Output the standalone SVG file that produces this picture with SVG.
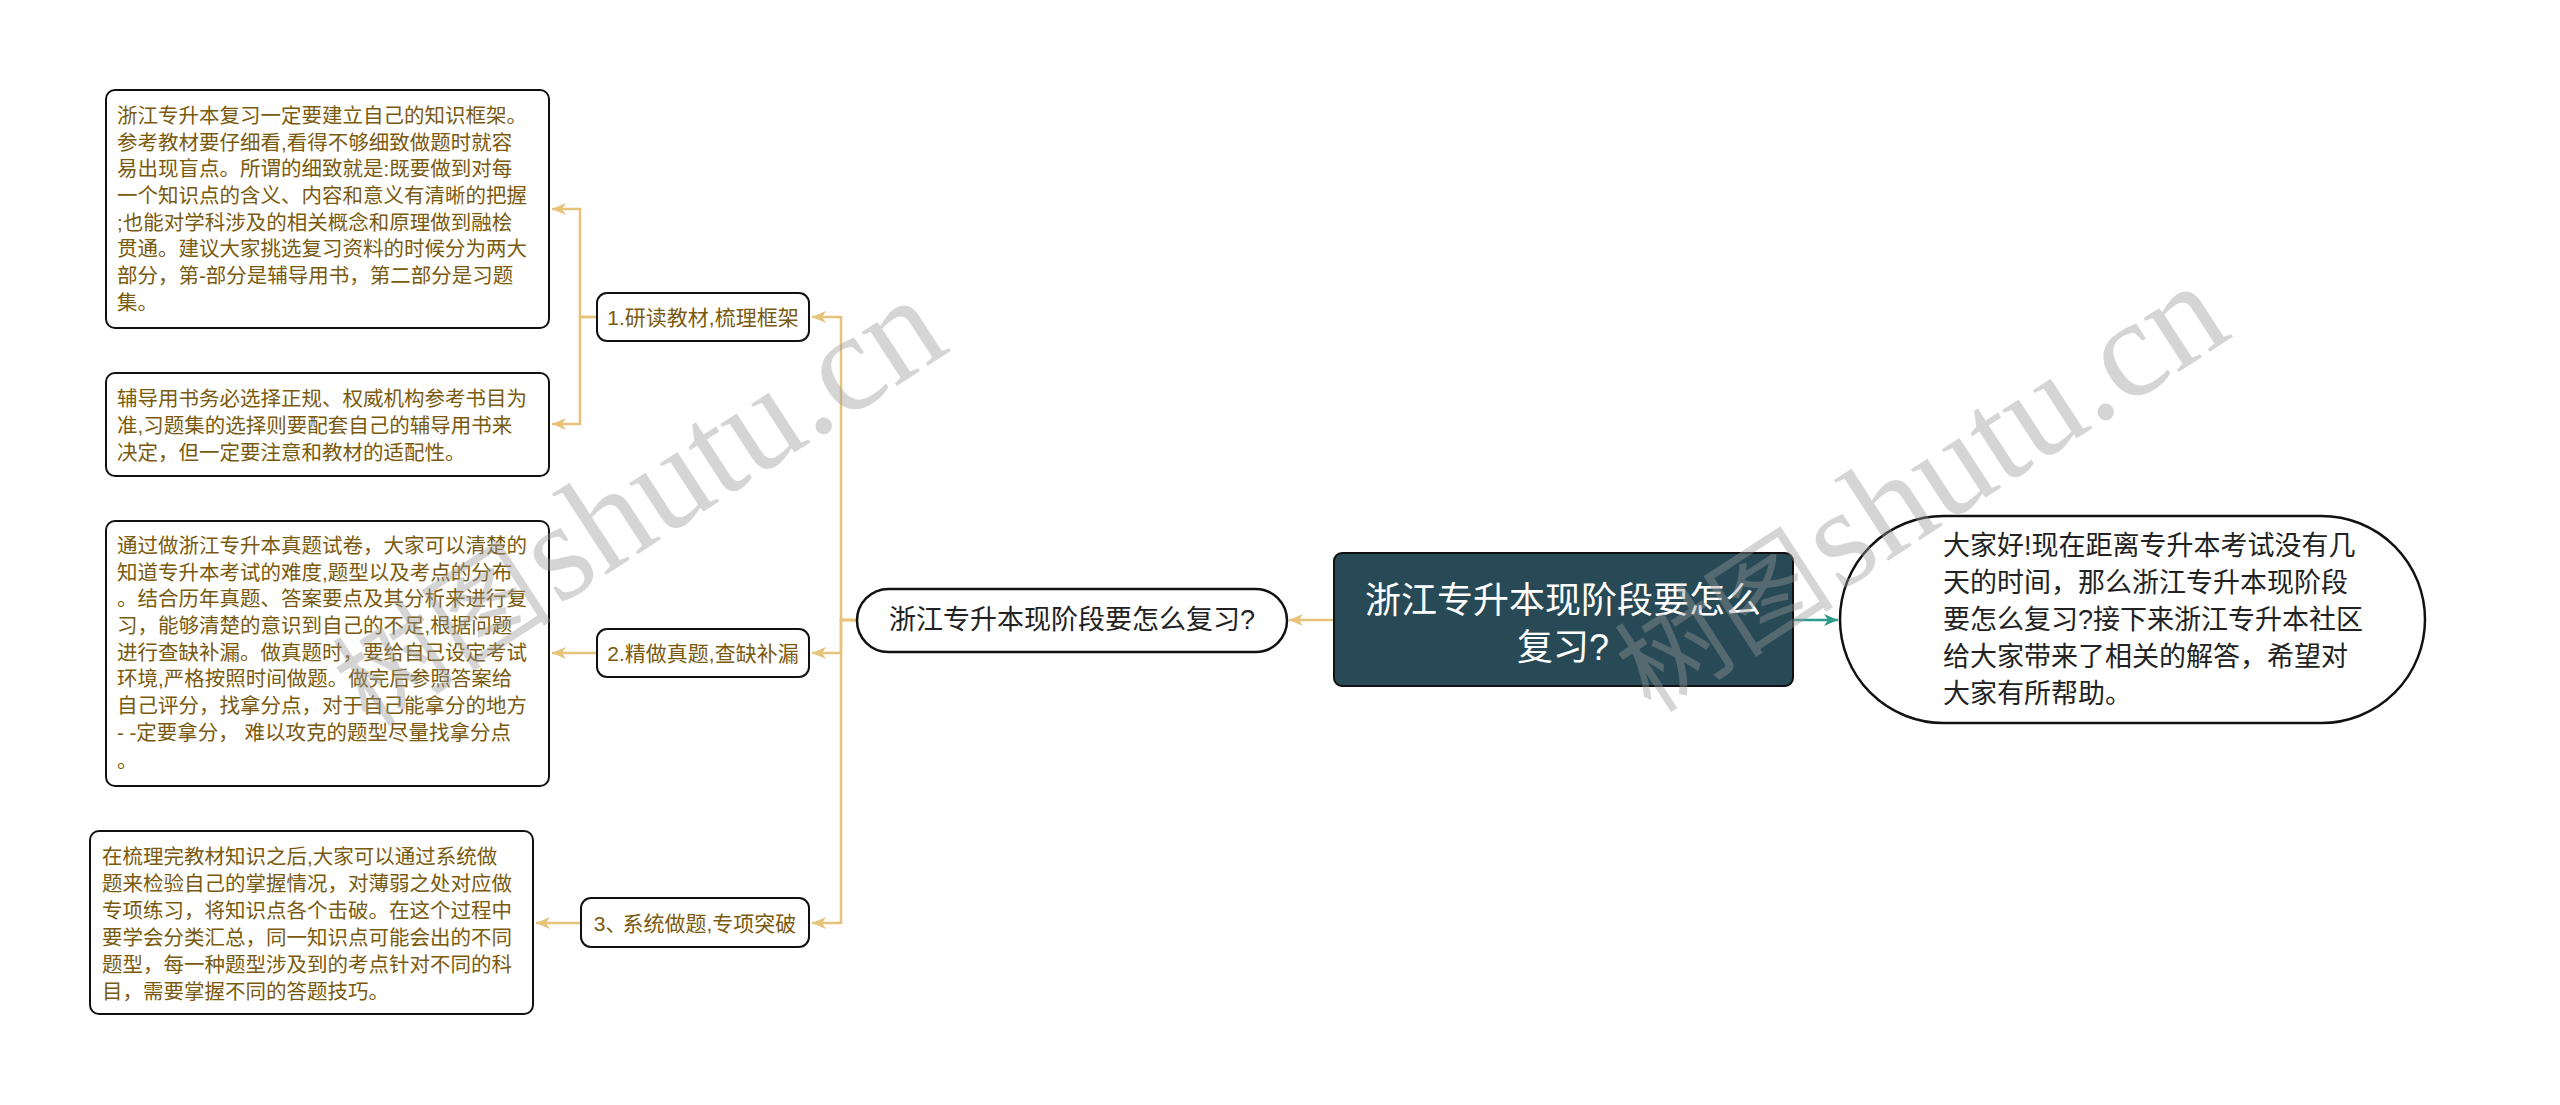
<svg xmlns="http://www.w3.org/2000/svg" width="2560" height="1105" viewBox="0 0 2560 1105">
<defs>
<style>
.leaf{fill:#ffffff;stroke:#111111;stroke-width:2}
.lt{font-family:"Liberation Sans","Noto Sans CJK SC",sans-serif;font-size:20.5px;fill:#7a5a0e;dominant-baseline:central}
.br{fill:#ffffff;stroke:#111111;stroke-width:2}
.bt{font-family:"Liberation Sans","Noto Sans CJK SC",sans-serif;font-size:21px;fill:#7a5a0e;dominant-baseline:central;text-anchor:middle}
.ct{font-family:"Liberation Sans","Noto Sans CJK SC",sans-serif;fill:#222222;dominant-baseline:central}
.gold{fill:none;stroke:#e6c27a;stroke-width:2.5}
.teal{fill:none;stroke:#2f9a8c;stroke-width:2.5}
.wm{font-family:"Liberation Serif","Noto Serif CJK SC",serif;font-size:140px;fill:#999999;opacity:0.4}
.wmc{font-family:"Noto Sans CJK SC",sans-serif;font-size:110px;fill:#999999;opacity:0.4}
</style>
<marker id="ag" markerUnits="userSpaceOnUse" markerWidth="16" markerHeight="14" refX="14" refY="7" orient="auto">
<path d="M0,1 L14,7 L0,13 L4,7 z" fill="#e6c27a"/>
</marker>
<marker id="at" markerUnits="userSpaceOnUse" markerWidth="16" markerHeight="14" refX="14" refY="7" orient="auto">
<path d="M0,1 L14,7 L0,13 L4,7 z" fill="#2f9a8c"/>
</marker>
</defs>
<rect width="2560" height="1105" fill="#ffffff"/>

<g id="connectors">
<path class="teal" d="M1793,620 H1838" marker-end="url(#at)"/>
<path class="gold" d="M1334,620 H1289" marker-end="url(#ag)"/>
<path class="gold" d="M857,620 H841 V317 H812" marker-end="url(#ag)"/>
<path class="gold" d="M857,620 H841 V653 H812" marker-end="url(#ag)"/>
<path class="gold" d="M857,620 H841 V923 H812" marker-end="url(#ag)"/>
<path class="gold" d="M597,317 H580 V209 H552" marker-end="url(#ag)"/>
<path class="gold" d="M597,317 H580 V424 H552" marker-end="url(#ag)"/>
<path class="gold" d="M597,653 H552" marker-end="url(#ag)"/>
<path class="gold" d="M581,923 H536" marker-end="url(#ag)"/>
</g>

<g id="main">
<rect x="1334" y="553" width="459" height="133" rx="8" fill="#284a56" stroke="#111111" stroke-width="2"/>
<text font-family="Liberation Sans,Noto Sans CJK SC,sans-serif" font-size="36" fill="#ffffff" text-anchor="middle" dominant-baseline="central"><tspan x="1563" y="600">浙江专升本现阶段要怎么</tspan><tspan x="1563" y="647">复习?</tspan></text>
</g>

<g id="intro">
<rect x="1840" y="516" width="585" height="207" rx="103.5" fill="#ffffff" stroke="#111111" stroke-width="2.5"/>
<text class="ct" font-size="27"><tspan x="1943" y="546">大家好!现在距离专升本考试没有几</tspan><tspan x="1943" y="583">天的时间，那么浙江专升本现阶段</tspan><tspan x="1943" y="620">要怎么复习?接下来浙江专升本社区</tspan><tspan x="1943" y="657">给大家带来了相关的解答，希望对</tspan><tspan x="1943" y="694">大家有所帮助。</tspan></text>
</g>

<g id="sub">
<rect x="857" y="589" width="430" height="63" rx="31.5" fill="#ffffff" stroke="#111111" stroke-width="2.5"/>
<text class="ct" font-size="27" x="1072" y="620" text-anchor="middle">浙江专升本现阶段要怎么复习?</text>
</g>

<g id="b1">
<rect class="br" x="597" y="293" width="212" height="48" rx="10"/>
<text class="bt" x="703" y="317">1.研读教材,梳理框架</text>
</g>
<g id="b2">
<rect class="br" x="597" y="629" width="212" height="48" rx="10"/>
<text class="bt" x="703" y="653">2.精做真题,查缺补漏</text>
</g>
<g id="b3">
<rect class="br" x="581" y="898" width="228" height="49" rx="10"/>
<text class="bt" x="695" y="923">3、<tspan dx="-4">系统做题,专项突破</tspan></text>
</g>

<g id="l1">
<rect class="leaf" x="106" y="90" width="443" height="238" rx="9"/>
<text class="lt"><tspan x="117" y="115">浙江专升本复习一定要建立自己的知识框架。</tspan><tspan x="117" y="141.7">参考教材要仔细看,看得不够细致做题时就容</tspan><tspan x="117" y="168.3">易出现盲点。所谓的细致就是:既要做到对每</tspan><tspan x="117" y="195">一个知识点的含义、内容和意义有清晰的把握</tspan><tspan x="117" y="221.7">;也能对学科涉及的相关概念和原理做到融桧</tspan><tspan x="117" y="248.3">贯通。建议大家挑选复习资料的时候分为两大</tspan><tspan x="117" y="275">部分，第-部分是辅导用书，第二部分是习题</tspan><tspan x="117" y="301.7">集。</tspan></text>
</g>
<g id="l2">
<rect class="leaf" x="106" y="373" width="443" height="103" rx="9"/>
<text class="lt"><tspan x="117" y="398">辅导用书务必选择正规、权威机构参考书目为</tspan><tspan x="117" y="425">准,习题集的选择则要配套自己的辅导用书来</tspan><tspan x="117" y="451.5">决定，但一定要注意和教材的适配性。</tspan></text>
</g>
<g id="l3">
<rect class="leaf" x="106" y="521" width="443" height="265" rx="9"/>
<text class="lt"><tspan x="117" y="545">通过做浙江专升本真题试卷，大家可以清楚的</tspan><tspan x="117" y="571.7">知道专升本考试的难度,题型以及考点的分布</tspan><tspan x="117" y="598.3">。结合历年真题、答案要点及其分析来进行复</tspan><tspan x="117" y="625">习，能够清楚的意识到自己的不足,根据问题</tspan><tspan x="117" y="651.7">进行查缺补漏。做真题时，要给自己设定考试</tspan><tspan x="117" y="678.3">环境,严格按照时间做题。做完后参照答案给</tspan><tspan x="117" y="705">自己评分，找拿分点，对于自己能拿分的地方</tspan><tspan x="117" y="731.7">- -定要拿分， 难以攻克的题型尽量找拿分点</tspan><tspan x="117" y="760">。</tspan></text>
</g>
<g id="l4">
<rect class="leaf" x="90" y="831" width="443" height="183" rx="9"/>
<text class="lt"><tspan x="102" y="855.5">在梳理完教材知识之后,大家可以通过系统做</tspan><tspan x="102" y="882.5">题来检验自己的掌握情况，对薄弱之处对应做</tspan><tspan x="102" y="909.5">专项练习，将知识点各个击破。在这个过程中</tspan><tspan x="102" y="936.5">要学会分类汇总，同一知识点可能会出的不同</tspan><tspan x="102" y="963.5">题型，每一种题型涉及到的考点针对不同的科</tspan><tspan x="102" y="990.5">目，需要掌握不同的答题技巧。</tspan></text>
</g>

<g id="watermark">
<g transform="translate(558,606) rotate(-33)"><text class="wmc" x="-225" y="0">树图</text><text class="wm" x="0" y="0">shutu.cn</text></g>
<g transform="translate(1840,592) rotate(-33)"><text class="wmc" x="-225" y="0">树图</text><text class="wm" x="0" y="0">shutu.cn</text></g>
</g>
</svg>
